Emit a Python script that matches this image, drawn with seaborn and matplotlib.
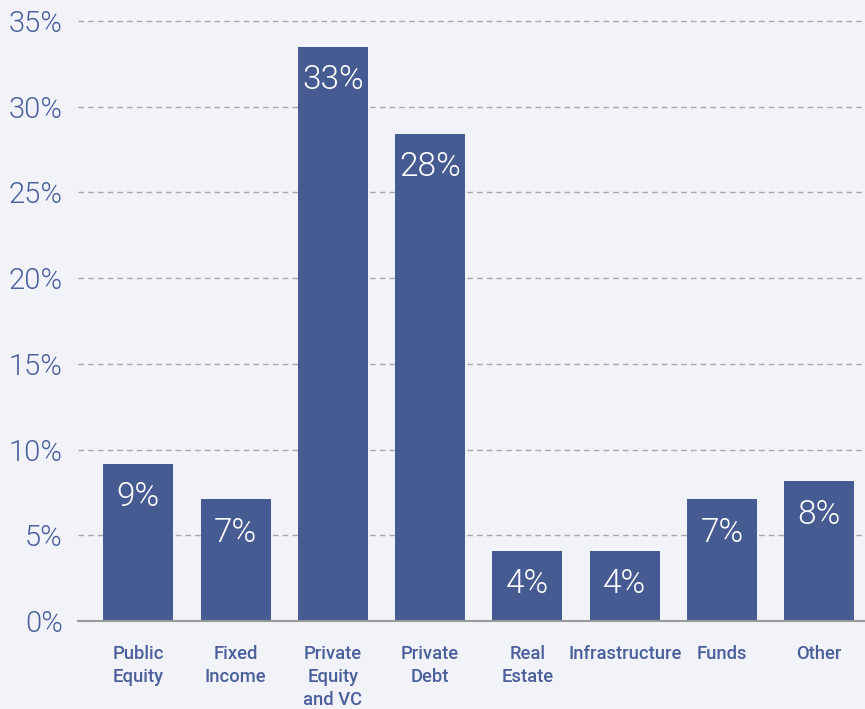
import pandas as pd
import numpy as np
import matplotlib.pyplot as plt
import seaborn as sns

categories = ['Public\nEquity', 'Fixed\nIncome', 'Private\nEquity\nand VC', 'Private\nDebt',
              'Real\nEstate', 'Infrastructure', 'Funds', 'Other']
shares = [9.15, 7.1, 33.5, 28.4, 4.1, 4.1, 7.1, 8.15]
bar_labels = ['9%', '7%', '33%', '28%', '4%', '4%', '7%', '8%']
y_ticks = [0, 5, 10, 15, 20, 25, 30, 35]

bg = '#f2f3f8'
bar_color = '#475b93'
text_color = '#4a5f9c'

sns.set_theme(style="white")
plt.rcParams['font.family'] = ['Roboto', 'DejaVu Sans']

df = pd.DataFrame({'category': categories, 'share': shares})

fig = plt.figure(figsize=(8.65, 7.09), dpi=100, facecolor=bg)
ax = fig.add_axes([78 / 865, 88 / 709, 1 - 78 / 865, (621 - 12.4) / 709])
ax.set_facecolor(bg)

sns.barplot(data=df, x='category', y='share', color=bar_color, saturation=1,
            width=0.72, linewidth=0, ax=ax, zorder=3)

ax.set_ylim(0, 35.5)
ax.set_xlim(-0.62, 7.47)
ax.set_yticks(y_ticks)
ax.set_yticklabels([f'{t}%' for t in y_ticks], fontsize=21, color=text_color,
                   fontweight=300)
ax.yaxis.grid(True, linestyle=(0, (4, 3)), color='#a8a8a8', linewidth=1)
ax.xaxis.grid(False)
ax.tick_params(axis='y', length=0, pad=11)
ax.tick_params(axis='x', length=0, pad=17)
for lbl in ax.get_xticklabels():
    lbl.set_fontsize(13.2)
    lbl.set_color(text_color)
    lbl.set_fontweight(500)
    lbl.set_linespacing(1.38)
    lbl.set_verticalalignment('top')
ax.set_xlabel('')
ax.set_ylabel('')

for s in ['top', 'right', 'left']:
    ax.spines[s].set_visible(False)
ax.spines['bottom'].set_color('#999999')
ax.spines['bottom'].set_linewidth(1.5)
ax.spines['bottom'].set_zorder(4)

for i, (v, t) in enumerate(zip(shares, bar_labels)):
    ax.annotate(t, (i, v), xytext=(0, -24), textcoords='offset points',
                ha='center', va='center', color='white', fontsize=24,
                fontweight=300, zorder=5)

fig.savefig('out.png', dpi=100, facecolor=bg)
